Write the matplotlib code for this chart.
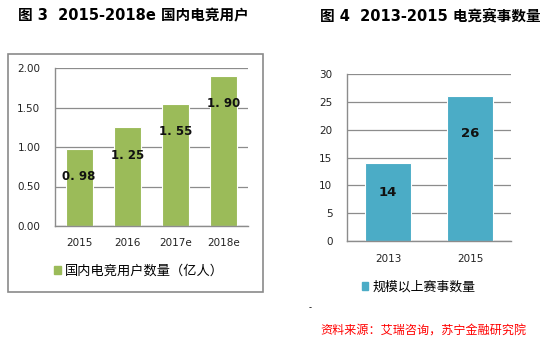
import matplotlib.pyplot as plt
from matplotlib.patches import Rectangle, Patch

plt.rcParams['font.family'] = ['DejaVu Sans', 'Noto Sans CJK SC']

# chart 1: domestic e-sports users (100 million)
users_years = ["2015", "2016", "2017e", "2018e"]
users_values = [0.98, 1.25, 1.55, 1.90]
users_labels = ["0. 98", "1. 25", "1. 55", "1. 90"]
users_ticks = [0.0, 0.5, 1.0, 1.5, 2.0]

# chart 2: number of large e-sports events
events_years = ["2013", "2015"]
events_values = [14, 26]
events_ticks = [0, 5, 10, 15, 20, 25, 30]

GREEN = "#9bbb59"
BLUE = "#4bacc6"
GRID = "#8c8c8c"

fig = plt.figure(figsize=(5.47, 3.42), dpi=100)
W, H = 547, 342


def fx(px):
    return px / W


def fy(py):
    return 1 - py / H


def style_axes(ax):
    for s in ["top", "right"]:
        ax.spines[s].set_visible(False)
    for s in ["left", "bottom"]:
        ax.spines[s].set_color(GRID)
        ax.spines[s].set_linewidth(1)
    ax.grid(axis="y", color=GRID, linewidth=0.9)
    ax.set_axisbelow(True)
    ax.tick_params(length=0, labelsize=7.5, colors="#222222")
    ax.tick_params(axis="x", pad=9)
    ax.tick_params(axis="y", pad=10.5)


# frame around left chart
fig.patches.append(Rectangle((fx(8), fy(292)), fx(263) - fx(8), fy(54) - fy(292),
                             transform=fig.transFigure, fill=False,
                             edgecolor="#8a8a8a", linewidth=1.2))

# left chart
ax1 = fig.add_axes([fx(55), fy(226), fx(248) - fx(55), fy(68) - fy(226)])
style_axes(ax1)
x1 = range(len(users_years))
bars1 = ax1.bar(x1, users_values, width=0.56, color=GREEN, edgecolor="white", linewidth=0.8)
ax1.set_ylim(0, 2.0)
ax1.set_xlim(-0.5, len(users_years) - 0.5)
ax1.set_yticks(users_ticks)
ax1.set_yticklabels([f"{t:.2f}" for t in users_ticks])
ax1.set_xticks(list(x1))
ax1.set_xticklabels(users_years)
for b, v, lab in zip(bars1, users_values, users_labels):
    ax1.annotate(lab, (b.get_x() + b.get_width() / 2, v), xytext=(0, -20),
                 textcoords="offset points", ha="center", va="center",
                 fontsize=8.5, fontweight="bold", color="#111111")
ax1.legend(handles=[Patch(color=GREEN, label="国内电竞用户数量（亿人）")],
           loc="center left", bbox_to_anchor=(fx(54), fy(271)),
           bbox_transform=fig.transFigure, frameon=False, fontsize=9.5,
           handlelength=0.5, handleheight=0.5, handletextpad=0.3, borderpad=0,
           borderaxespad=0)

# right chart
ax2 = fig.add_axes([fx(347), fy(241), fx(511) - fx(347), fy(74) - fy(241)])
style_axes(ax2)
x2 = range(len(events_years))
bars2 = ax2.bar(x2, events_values, width=0.56, color=BLUE, edgecolor="white", linewidth=0.8)
ax2.set_ylim(0, 30)
ax2.set_xlim(-0.5, len(events_years) - 0.5)
ax2.set_yticks(events_ticks)
ax2.set_xticks(list(x2))
ax2.set_xticklabels(events_years)
for b, v, off in zip(bars2, events_values, [-21, -27]):
    ax2.annotate(str(v), (b.get_x() + b.get_width() / 2, v), xytext=(0, off),
                 textcoords="offset points", ha="center", va="center",
                 fontsize=9.5, fontweight="bold", color="#111111")
ax2.legend(handles=[Patch(color=BLUE, label="规模以上赛事数量")],
           loc="center left", bbox_to_anchor=(fx(362), fy(287)),
           bbox_transform=fig.transFigure, frameon=False, fontsize=9.3,
           handlelength=0.5, handleheight=0.5, handletextpad=0.3, borderpad=0,
           borderaxespad=0)

# titles
fig.text(fx(18), fy(16), "图 3  2015-2018e 国内电竞用户", fontsize=10.5,
         fontweight="bold", va="center", ha="left")
fig.text(fx(320), fy(16), "图 4  2013-2015 电竞赛事数量", fontsize=10.5,
         fontweight="bold", va="center", ha="left")

# small dot and source
fig.text(fx(310), fy(308), "-", fontsize=6, va="center", ha="center")
fig.text(fx(320), fy(331), "资料来源：艾瑞咨询，苏宁金融研究院", fontsize=8.7,
         color="red", style="italic", va="center", ha="left",
         family=["Noto Sans CJK SC", "DejaVu Sans"])

fig.savefig("out.png", dpi=100)
